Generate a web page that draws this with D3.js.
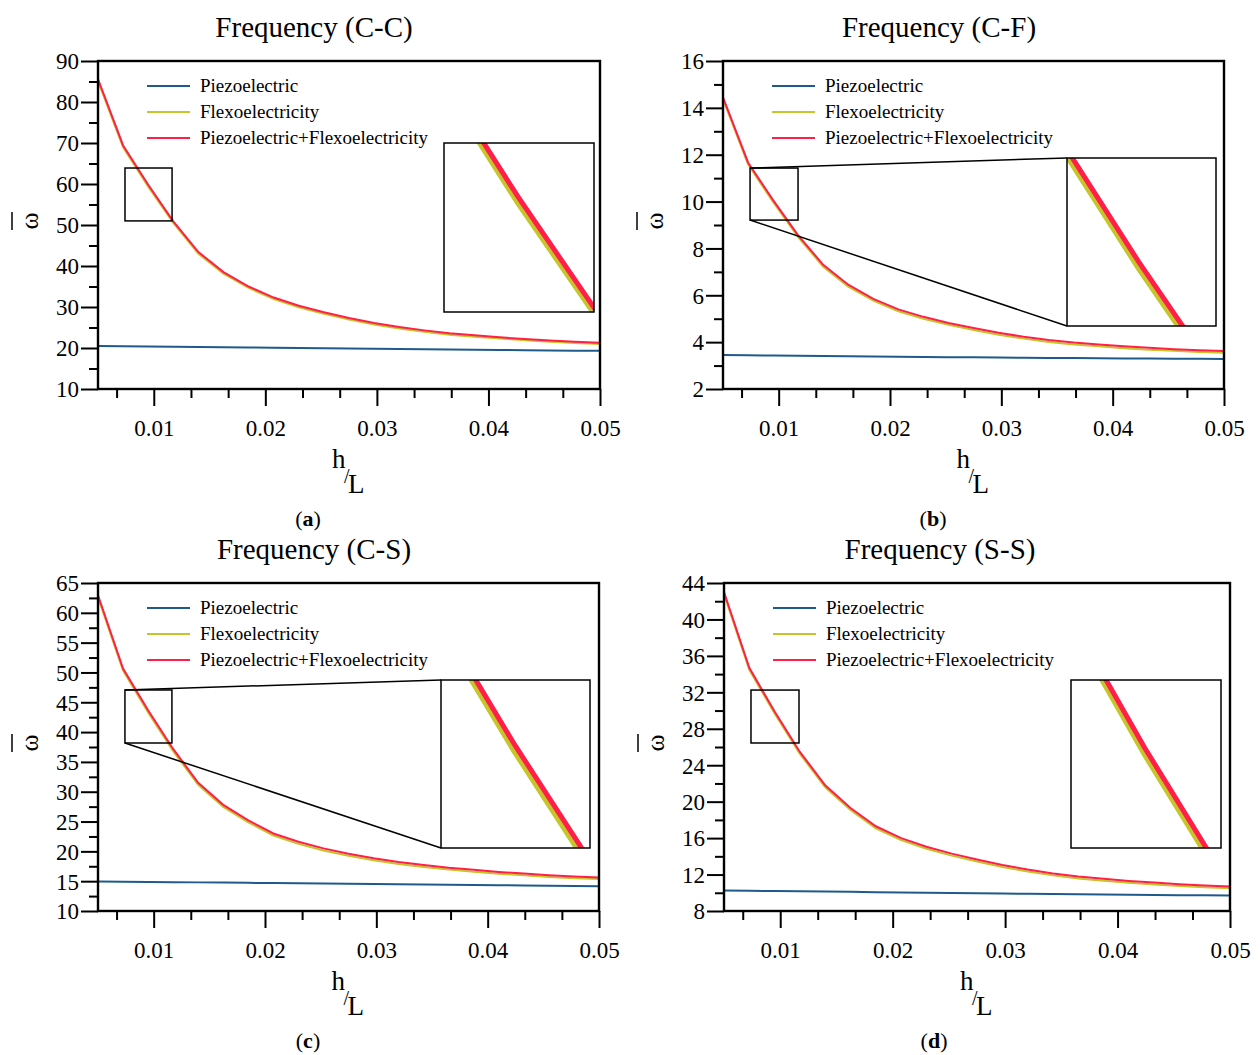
<!DOCTYPE html>
<html>
<head>
  <meta charset="utf-8">
  <title>Frequency vs h/L</title>
  <script src="https://d3js.org/d3.v7.min.js"></script>
  <style>
    body {
      margin: 0;
      background: #ffffff;
    }
    svg text {
      font-family: "Liberation Serif", "Times New Roman", serif;
      fill: #000;
    }
    .legend-text { font-size: 19px; }
    .title { font-size: 29px; }
  </style>
</head>
<body>
<svg id="chart" width="1260" height="1055"></svg>
<script>
  // h/L sample points
  const hL = [0.005, 0.00725, 0.0095, 0.01175, 0.014, 0.01625, 0.0185, 0.02075, 0.023, 0.02525, 0.0275,
              0.02975, 0.032, 0.03425, 0.0365, 0.03875, 0.041, 0.04325, 0.0455, 0.04775, 0.05];

  const seriesNames = ['Piezoelectric', 'Flexoelectricity', 'Piezoelectric+Flexoelectricity'];
  const seriesColors = ['#1e5b8c', '#c4c62a', '#ff1f48'];

  // (a) C-C
  const ccPiezo = [20.5, 20.44, 20.38, 20.31, 20.25, 20.19, 20.13, 20.07, 20.01, 19.95, 19.89,
                   19.83, 19.77, 19.71, 19.65, 19.59, 19.53, 19.47, 19.41, 19.35, 19.3];
  const ccFlexo = [85.1, 68.95, 59.35, 50.5, 43.0, 38.1, 34.65, 31.95, 29.95, 28.35, 26.95,
                   25.75, 24.75, 23.95, 23.25, 22.75, 22.3, 21.9, 21.5, 21.2, 21.0];
  const ccBoth  = [85.6, 69.4, 59.8, 50.9, 43.4, 38.5, 35.0, 32.3, 30.3, 28.7, 27.3,
                   26.1, 25.1, 24.3, 23.6, 23.1, 22.6, 22.2, 21.8, 21.5, 21.3];

  // (b) C-F
  const cfPiezo = [3.45, 3.44, 3.43, 3.42, 3.41, 3.40, 3.39, 3.38, 3.37, 3.36, 3.35,
                   3.34, 3.33, 3.32, 3.32, 3.31, 3.30, 3.30, 3.29, 3.29, 3.28];
  const cfFlexo = [14.37, 11.59, 9.98, 8.48, 7.22, 6.37, 5.77, 5.32, 5.0, 4.74, 4.52,
                   4.32, 4.15, 4.01, 3.9, 3.82, 3.74, 3.68, 3.63, 3.58, 3.55];
  const cfBoth  = [14.45, 11.67, 10.06, 8.56, 7.3, 6.45, 5.85, 5.4, 5.08, 4.82, 4.6,
                   4.4, 4.23, 4.09, 3.98, 3.9, 3.82, 3.76, 3.7, 3.65, 3.62];

  // (c) C-S
  const csPiezo = [14.95, 14.92, 14.88, 14.84, 14.80, 14.76, 14.72, 14.68, 14.64, 14.60, 14.56,
                   14.52, 14.48, 14.44, 14.40, 14.36, 14.32, 14.28, 14.24, 14.20, 14.15];
  const csFlexo = [62.6, 50.3, 43.3, 36.8, 31.15, 27.45, 24.85, 22.65, 21.25, 20.15, 19.27,
                   18.52, 17.88, 17.38, 16.95, 16.6, 16.26, 15.98, 15.7, 15.5, 15.35];
  const csBoth  = [62.95, 50.66, 43.65, 37.17, 31.5, 27.8, 25.2, 23.0, 21.6, 20.5, 19.6,
                   18.85, 18.2, 17.7, 17.25, 16.9, 16.55, 16.27, 15.98, 15.77, 15.6];

  // (d) S-S
  const ssPiezo = [10.25, 10.22, 10.19, 10.16, 10.13, 10.10, 10.07, 10.04, 10.01, 9.98, 9.95,
                   9.92, 9.89, 9.86, 9.83, 9.80, 9.78, 9.76, 9.74, 9.72, 9.70];
  const ssFlexo = [42.78, 34.48, 29.68, 25.24, 21.58, 19.08, 17.08, 15.78, 14.83, 14.08, 13.43,
                   12.83, 12.34, 11.91, 11.57, 11.32, 11.1, 10.92, 10.75, 10.61, 10.5];
  const ssBoth  = [43.0, 34.7, 29.9, 25.46, 21.8, 19.3, 17.3, 16.0, 15.05, 14.3, 13.65,
                   13.05, 12.55, 12.12, 11.78, 11.53, 11.3, 11.12, 10.94, 10.8, 10.68];

  const panels = [
    { id: 'a', title: 'Frequency (C-C)', series: [ccPiezo, ccFlexo, ccBoth],
      yDomain: [10, 90], yMajor: 10, yMinor: 5,
      box: { left: 98, right: 600, top: 61, bottom: 389 },
      zoomX: [0.00742, 0.01164], zoomY: [51.0, 63.9],
      inset: { left: 444, right: 594, top: 143, bottom: 312 }, connect: false },
    { id: 'b', title: 'Frequency (C-F)', series: [cfPiezo, cfFlexo, cfBoth],
      yDomain: [2, 16], yMajor: 2, yMinor: 1,
      box: { left: 723, right: 1224, top: 61, bottom: 389 },
      zoomX: [0.00743, 0.01174], zoomY: [9.21, 11.43],
      inset: { left: 1067, right: 1216, top: 158, bottom: 326 }, connect: true },
    { id: 'c', title: 'Frequency (C-S)', series: [csPiezo, csFlexo, csBoth],
      yDomain: [10, 65], yMajor: 5, yMinor: 2.5,
      box: { left: 98, right: 599, top: 583, bottom: 911 },
      zoomX: [0.00742, 0.01164], zoomY: [38.17, 47.06],
      inset: { left: 441, right: 590, top: 680, bottom: 848 }, connect: true },
    { id: 'd', title: 'Frequency (S-S)', series: [ssPiezo, ssFlexo, ssBoth],
      yDomain: [8, 44], yMajor: 4, yMinor: 2,
      box: { left: 724, right: 1230, top: 583, bottom: 911 },
      zoomX: [0.0074, 0.01167], zoomY: [26.44, 32.25],
      inset: { left: 1071, right: 1221, top: 680, bottom: 848 }, connect: false }
  ];

  const svg = d3.select('#chart');
  const defs = svg.append('defs');

  function range(start, stop, step) {
    const out = [];
    for (let v = start; v <= stop + step * 1e-6; v += step) out.push(+v.toFixed(6));
    return out;
  }

  panels.forEach(p => {
    const b = p.box;
    const x = d3.scaleLinear().domain([0.005, 0.05]).range([b.left, b.right]);
    const y = d3.scaleLinear().domain(p.yDomain).range([b.bottom, b.top]);
    const g = svg.append('g').attr('class', 'panel-' + p.id);
    const cx = (b.left + b.right) / 2;

    // title
    g.append('text').attr('class', 'title')
      .attr('x', b.left + 216).attr('y', b.top - 24)
      .attr('text-anchor', 'middle')
      .text(p.title);

    // clip for the plot
    defs.append('clipPath').attr('id', 'clip-' + p.id)
      .append('rect')
      .attr('x', b.left).attr('y', b.top)
      .attr('width', b.right - b.left).attr('height', b.bottom - b.top);

    const line = d3.line().x((d, i) => x(hL[i])).y(d => y(d));
    const plot = g.append('g').attr('clip-path', `url(#clip-${p.id})`);
    p.series.forEach((s, i) => {
      plot.append('path')
        .attr('d', line(s))
        .attr('fill', 'none')
        .attr('stroke', seriesColors[i])
        .attr('stroke-width', 2);
    });

    // frame
    g.append('rect')
      .attr('x', b.left).attr('y', b.top)
      .attr('width', b.right - b.left).attr('height', b.bottom - b.top)
      .attr('fill', 'none').attr('stroke', '#000').attr('stroke-width', 2.4);

    // y ticks
    const yIsMajor = d => Math.abs(d / p.yMajor - Math.round(d / p.yMajor)) < 1e-6;
    const yAxis = d3.axisLeft(y).tickValues(range(p.yDomain[0], p.yDomain[1], p.yMinor)).tickSizeOuter(0)
      .tickFormat(d => yIsMajor(d) ? d3.format('d')(d) : '');
    const ya = g.append('g').attr('transform', `translate(${b.left},0)`).call(yAxis);
    ya.select('.domain').remove();
    ya.selectAll('.tick line')
      .attr('x2', d => yIsMajor(d) ? -17 : -9)
      .attr('stroke', '#000').attr('stroke-width', 2);
    ya.selectAll('.tick text')
      .attr('x', -19).attr('dy', '0.34em')
      .style('font-family', '"Liberation Serif", serif').style('font-size', '23px');

    // x ticks: minor every 0.01/3, major every 0.01
    const xTickVals = d3.range(2, 16).map(k => k * 0.01 / 3);
    const isMajor = d => Math.abs(d * 100 - Math.round(d * 100)) < 1e-6;
    const xAxis = d3.axisBottom(x).tickValues(xTickVals).tickSizeOuter(0)
      .tickFormat(d => isMajor(d) ? d3.format('.2f')(d) : '');
    const xa = g.append('g').attr('transform', `translate(0,${b.bottom})`).call(xAxis);
    xa.select('.domain').remove();
    xa.selectAll('.tick line')
      .attr('y2', d => isMajor(d) ? 17 : 9)
      .attr('stroke', '#000').attr('stroke-width', 2);
    xa.selectAll('.tick text')
      .attr('y', 31).attr('dy', '0.71em')
      .style('font-family', '"Liberation Serif", serif').style('font-size', '23px');

    // axis labels
    g.append('text').attr('x', cx - 17).attr('y', b.bottom + 79)
      .style('font-size', '27px').text('h');
    g.append('text').attr('x', cx - 5).attr('y', b.bottom + 94)
      .style('font-size', '20px').text('/');
    g.append('text').attr('x', cx - 1).attr('y', b.bottom + 104)
      .style('font-size', '27px').text('L');

    const ylx = b.left - 68, yly = (b.top + b.bottom) / 2 - 4;
    g.append('text')
      .attr('transform', `translate(${ylx},${yly}) rotate(-90)`)
      .attr('text-anchor', 'middle').attr('dy', '0.3em')
      .style('font-size', '26px').text('ω');
    g.append('line')
      .attr('x1', b.left - 86).attr('x2', b.left - 86)
      .attr('y1', yly - 9).attr('y2', yly + 9)
      .attr('stroke', '#000').attr('stroke-width', 1.5);

    // subcaption
    const cap = g.append('text').attr('x', b.left + 210).attr('y', b.bottom + 137)
      .attr('text-anchor', 'middle').style('font-size', '22px');
    cap.append('tspan').text('(');
    cap.append('tspan').style('font-weight', 'bold').text(p.id);
    cap.append('tspan').text(')');

    // legend
    seriesNames.forEach((name, i) => {
      const ly = b.top + 25 + i * 26;
      g.append('line')
        .attr('x1', b.left + 49).attr('x2', b.left + 92)
        .attr('y1', ly).attr('y2', ly)
        .attr('stroke', seriesColors[i]).attr('stroke-width', 2);
      g.append('text').attr('class', 'legend-text')
        .attr('x', b.left + 102).attr('y', ly).attr('dy', '0.33em')
        .text(name);
    });

    // zoom box + inset
    const zx0 = x(p.zoomX[0]), zx1 = x(p.zoomX[1]);
    const zy0 = y(p.zoomY[1]), zy1 = y(p.zoomY[0]);
    const ins = p.inset;
    if (p.connect) {
      g.append('line').attr('x1', zx0).attr('y1', zy0).attr('x2', ins.left).attr('y2', ins.top)
        .attr('stroke', '#000').attr('stroke-width', 1.5);
      g.append('line').attr('x1', zx0).attr('y1', zy1).attr('x2', ins.left).attr('y2', ins.bottom)
        .attr('stroke', '#000').attr('stroke-width', 1.5);
    }
    g.append('rect').attr('x', zx0).attr('y', zy0)
      .attr('width', zx1 - zx0).attr('height', zy1 - zy0)
      .attr('fill', 'none').attr('stroke', '#000').attr('stroke-width', 1.5);

    const ix = d3.scaleLinear().domain(p.zoomX).range([ins.left, ins.right]);
    const iy = d3.scaleLinear().domain(p.zoomY).range([ins.bottom, ins.top]);
    defs.append('clipPath').attr('id', 'inset-' + p.id)
      .append('rect')
      .attr('x', ins.left).attr('y', ins.top)
      .attr('width', ins.right - ins.left).attr('height', ins.bottom - ins.top);
    g.append('rect').attr('x', ins.left).attr('y', ins.top)
      .attr('width', ins.right - ins.left).attr('height', ins.bottom - ins.top)
      .attr('fill', '#fff');
    const iline = d3.line().x((d, i) => ix(hL[i])).y(d => iy(d));
    const ig = g.append('g').attr('clip-path', `url(#inset-${p.id})`);
    [1, 2].forEach(i => {
      ig.append('path')
        .attr('d', iline(p.series[i]))
        .attr('fill', 'none')
        .attr('stroke', seriesColors[i])
        .attr('stroke-width', i === 1 ? 6 : 5);
    });
    g.append('rect').attr('x', ins.left).attr('y', ins.top)
      .attr('width', ins.right - ins.left).attr('height', ins.bottom - ins.top)
      .attr('fill', 'none').attr('stroke', '#000').attr('stroke-width', 1.5);
  });
</script>
</body>
</html>
